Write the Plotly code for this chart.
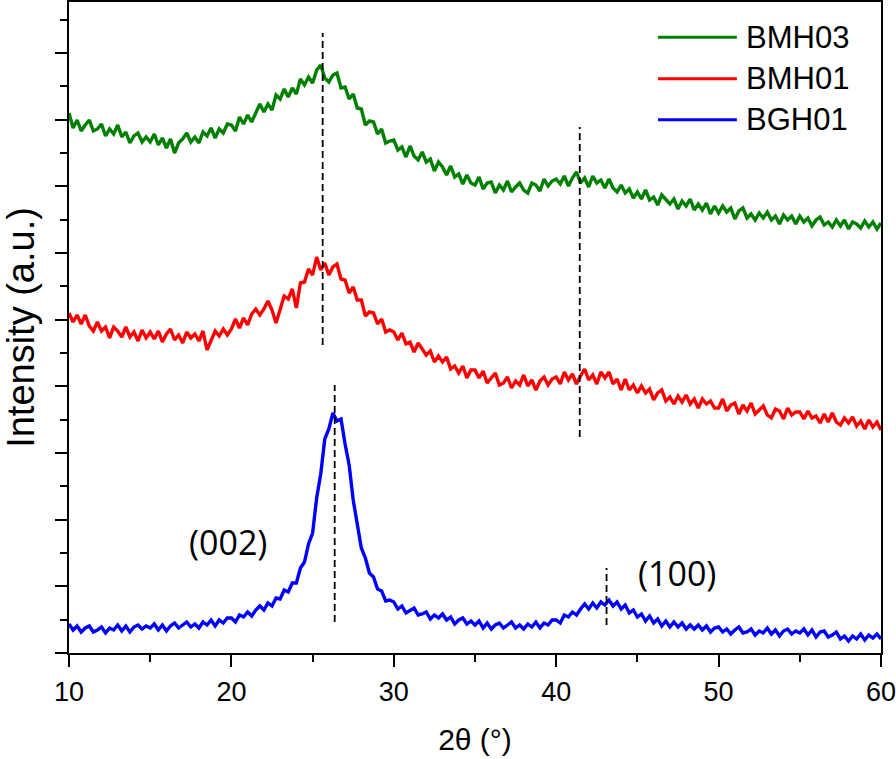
import plotly.graph_objects as go

# ---------------- data ----------------
series_names = ["BMH03", "BMH01", "BGH01"]
series_colors = ["#008000", "#ff0000", "#0000ff"]

# scan grid: 10° to 60° in 0.25° steps
SCAN_START = 10.0
SCAN_STEP = 0.25

bmh03 = [
    540, 525, 533, 522, 528, 533, 522, 524, 529, 517, 524, 519, 528, 516, 521, 510, 517, 520, 511, 516,
    511, 519, 508, 515, 505, 514, 500, 510, 514, 520, 511, 516, 510, 521, 517, 525, 515, 524, 520, 529,
    528, 522, 536, 529, 538, 531, 540, 549, 541, 549, 543, 558, 554, 564, 556, 565, 559, 574, 568, 576,
    570, 583, 588, 575, 571, 578, 580, 565, 566, 554, 559, 545, 544, 528, 532, 531, 519, 524, 510, 512,
    513, 503, 506, 496, 507, 497, 493, 501, 491, 494, 482, 491, 486, 478, 487, 476, 479, 469, 478, 470,
    468, 476, 464, 470, 471, 460, 468, 463, 472, 461, 466, 470, 463, 460, 470, 468, 462, 474, 467, 472,
    474, 469, 477, 467, 475, 481, 470, 475, 466, 477, 470, 473, 465, 474, 465, 461, 468, 460, 464, 455,
    461, 454, 463, 453, 456, 448, 458, 454, 449, 454, 444, 452, 447, 454, 443, 449, 443, 450, 439, 447,
    440, 447, 441, 445, 434, 442, 445, 435, 439, 433, 440, 435, 441, 433, 437, 429, 438, 433, 437, 429,
    437, 431, 435, 427, 433, 436, 428, 431, 426, 433, 427, 433, 424, 431, 429, 425, 432, 426, 431, 424, 430,
]

bmh01 = [
    340, 331, 338, 329, 338, 327, 322, 331, 322, 326, 315, 326, 322, 316, 326, 316, 321, 312, 323, 315,
    321, 314, 322, 311, 319, 324, 313, 318, 310, 321, 315, 319, 312, 322, 303, 312, 322, 317, 324, 318,
    324, 334, 325, 335, 328, 339, 344, 338, 344, 352, 343, 330, 345, 357, 354, 364, 345, 370, 371, 384,
    378, 396, 383, 390, 378, 386, 389, 374, 373, 360, 366, 353, 353, 337, 341, 340, 329, 334, 321, 323,
    321, 313, 320, 309, 311, 301, 310, 304, 298, 302, 291, 297, 291, 296, 284, 287, 280, 287, 275, 283,
    283, 275, 282, 270, 275, 280, 268, 270, 276, 265, 272, 268, 278, 267, 273, 263, 272, 276, 268, 274,
    276, 269, 281, 273, 279, 269, 277, 284, 273, 278, 269, 281, 275, 281, 269, 274, 263, 274, 263, 268,
    260, 267, 260, 264, 253, 260, 263, 252, 256, 249, 257, 251, 258, 249, 254, 245, 254, 249, 252, 245,
    245, 254, 242, 248, 250, 239, 248, 242, 250, 239, 243, 247, 238, 235, 244, 242, 234, 245, 238, 241,
    241, 234, 242, 235, 237, 230, 239, 231, 240, 231, 228, 235, 230, 236, 227, 232, 224, 233, 226, 231, 223,
]

bgh01 = [
    29, 23, 27, 21, 25, 27, 21, 23, 26, 20, 25, 23, 28, 22, 27, 21, 26, 28, 24, 27,
    25, 29, 23, 28, 22, 27, 30, 25, 28, 31, 26, 29, 25, 31, 28, 33, 27, 33, 30, 35,
    35, 31, 38, 36, 41, 37, 43, 47, 43, 50, 47, 55, 54, 63, 61, 70, 70, 85, 91, 109,
    120, 155, 179, 214, 224, 240, 232, 234, 209, 188, 153, 131, 105, 95, 80, 76, 64, 62, 52, 53,
    51, 44, 47, 40, 43, 45, 38, 39, 41, 34, 38, 35, 39, 33, 36, 29, 33, 35, 29, 32,
    28, 32, 25, 30, 24, 28, 30, 25, 28, 31, 25, 28, 24, 29, 26, 31, 25, 30, 28, 33,
    33, 30, 38, 36, 41, 38, 44, 49, 44, 50, 45, 51, 48, 53, 47, 51, 44, 48, 40, 43,
    36, 39, 32, 37, 30, 34, 27, 32, 26, 31, 26, 30, 24, 28, 24, 28, 23, 27, 21, 25,
    26, 21, 24, 19, 23, 26, 20, 21, 24, 18, 22, 20, 25, 19, 23, 17, 22, 24, 19, 22,
    20, 24, 18, 23, 16, 21, 22, 16, 18, 21, 14, 17, 12, 17, 14, 19, 13, 18, 15, 19, 14,
]

# dashed peak markers (2θ position, lower and upper intensity extent)
peak_pos = [25.62, 41.45, 26.36, 43.1]
peak_low = [308, 216, 31, 28]
peak_high = [620, 526, 268, 85]

# reflection labels
refl_labels = ["(002)", "(100)"]
refl_x = [19.77, 47.42]
refl_y = [111, 80]

x_ticks = [10, 20, 30, 40, 50, 60]

# ---------------- figure ----------------
two_theta = [SCAN_START + SCAN_STEP * i for i in range(len(bgh01))]

fig = go.Figure()
for name, color, ys in zip(series_names, series_colors, [bmh03, bmh01, bgh01]):
    fig.add_trace(go.Scatter(x=two_theta, y=ys, mode="lines", name=name,
                             line=dict(color=color, width=3.4)))

for p, lo, hi in zip(peak_pos, peak_low, peak_high):
    fig.add_trace(go.Scatter(x=[p, p], y=[lo, hi], mode="lines", showlegend=False,
                             line=dict(color="black", width=1.8, dash="7px,4px"),
                             hoverinfo="skip"))

for txt, xx, yy in zip(refl_labels, refl_x, refl_y):
    fig.add_annotation(x=xx, y=yy, text=txt, showarrow=False,
                       font=dict(family="Open Sans", size=34, color="black"))

# manual legend (long sample lines as in the reference)
leg_y = [0.946, 0.882, 0.819]
for name, color, yy in zip(series_names, series_colors, leg_y):
    fig.add_shape(type="line", xref="paper", yref="paper", x0=0.7254, x1=0.8225,
                  y0=yy, y1=yy, line=dict(color=color, width=3))
    fig.add_annotation(xref="paper", yref="paper", x=0.8310, y=yy, text=name,
                       showarrow=False, xanchor="left", yanchor="middle",
                       font=dict(family="Liberation Sans, Arial", size=31, color="black"))

fig.update_layout(
    width=896, height=759,
    margin=dict(l=69, r=15, t=2, b=106, autoexpand=False),
    plot_bgcolor="white", paper_bgcolor="white",
    showlegend=False,
    font=dict(family="Liberation Sans, Arial", color="black"),
)
fig.update_xaxes(
    range=[10, 60], tickvals=x_ticks, ticks="outside", ticklen=12, tickwidth=2,
    tickcolor="black", showline=True, linewidth=2, linecolor="black", mirror=True,
    showgrid=False, zeroline=False, tickfont=dict(size=27), automargin=False,
    ticklabelstandoff=2, ticklabeloverflow="allow",
    minor=dict(ticks="outside", ticklen=7, tickwidth=2, tickcolor="black", dtick=5, tick0=5),
    title=dict(text="2θ (°)", font=dict(size=30), standoff=23),
)
fig.update_yaxes(
    range=[0, 651], tick0=0, dtick=200 / 3, ticks="outside", ticklen=12, tickwidth=2,
    tickcolor="black", showline=True, linewidth=2, linecolor="black", mirror=True,
    showgrid=False, zeroline=False, showticklabels=False, automargin=False,
    minor=dict(ticks="outside", ticklen=7, tickwidth=2, tickcolor="black", dtick=100 / 3),
    title=dict(text="Intensity (a.u.)", font=dict(size=38), standoff=14),
)

fig.write_html("out.html", config={"displayModeBar": False},
               post_script="document.body.style.margin='0';document.body.style.overflow='hidden';")
